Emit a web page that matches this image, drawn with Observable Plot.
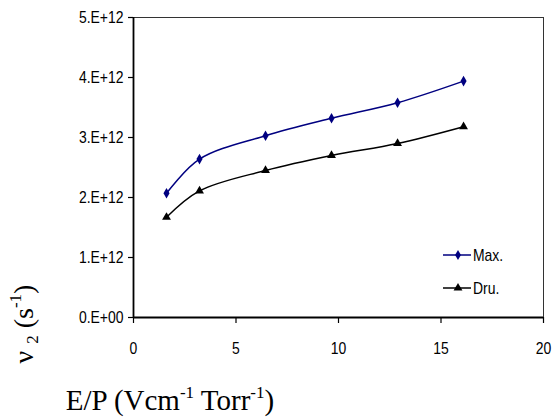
<!DOCTYPE html>
<html>
<head>
<meta charset="utf-8">
<script src="https://cdn.jsdelivr.net/npm/d3@7"></script>
<script src="https://cdn.jsdelivr.net/npm/@observablehq/plot@0.6"></script>
<style>
  html, body { margin: 0; padding: 0; background: #fff; }
  #chart { width: 552px; height: 420px; }
</style>
</head>
<body>
<div id="chart"></div>
<script>
// ---- data ----
const xTicks = [0, 5, 10, 15, 20];
const yTicks = [0, 1e12, 2e12, 3e12, 4e12, 5e12];
const yTickLabels = ["0.E+00", "1.E+12", "2.E+12", "3.E+12", "4.E+12", "5.E+12"];
const epValues = [1.61, 3.22, 6.44, 9.66, 12.88, 16.1];
const maxValues = [2.07e12, 2.64e12, 3.03e12, 3.32e12, 3.58e12, 3.94e12];
const druValues = [1.67e12, 2.11e12, 2.45e12, 2.70e12, 2.90e12, 3.18e12];
const seriesNames = ["Max.", "Dru."];
const seriesColors = ["#000080", "#000000"];

const maxData = epValues.map((x, i) => ({x, y: maxValues[i]}));
const druData = epValues.map((x, i) => ({x, y: druValues[i]}));

const tickFont = "'Liberation Sans', Arial, sans-serif";

const chart = Plot.plot({
  width: 552,
  height: 420,
  marginLeft: 133,
  marginRight: 9,
  marginTop: 17,
  marginBottom: 103,
  style: {fontFamily: tickFont, fontSize: "17px", color: "#000", background: "#fff", overflow: "visible"},
  x: {domain: [0, 20], ticks: xTicks},
  y: {domain: [0, 5e12], ticks: yTicks},
  marks: [
    Plot.frame({stroke: "#333", strokeWidth: 1}),
    Plot.ruleX([0], {stroke: "#000", strokeWidth: 1.8}),
    Plot.ruleY([0], {stroke: "#000", strokeWidth: 1.8}),
    Plot.axisX({ticks: xTicks, tickSize: 6, tickPadding: 18, label: null, stroke: "#000", strokeWidth: 1.2, fontSize: 17}),
    Plot.axisY({ticks: yTicks, tickSize: 5, tickPadding: 5, label: null, stroke: "#000", strokeWidth: 1.2,
      tickFormat: d => yTickLabels[yTicks.indexOf(d)], fontSize: 17}),
    Plot.line(maxData, {x: "x", y: "y", stroke: seriesColors[0], strokeWidth: 1.5, curve: "catmull-rom"}),
    Plot.line(druData, {x: "x", y: "y", stroke: seriesColors[1], strokeWidth: 1.5, curve: "catmull-rom"}),
    Plot.dot(maxData, {x: "x", y: "y", symbol: "diamond", r: 3.2, fill: seriesColors[0], stroke: "none"}),
    Plot.dot(druData, {x: "x", y: "y", symbol: "triangle", r: 3.3, fill: seriesColors[1], stroke: "none"})
  ]
});
document.getElementById("chart").appendChild(chart);

const svg = d3.select(chart);

// narrow the sans-serif labels (the reference uses a condensed face)
function condense(sel, k) {
  sel.each(function () {
    const w = this.getComputedTextLength();
    if (w > 0) {
      this.setAttribute("textLength", (w * k).toFixed(2));
      this.setAttribute("lengthAdjust", "spacingAndGlyphs");
    }
  });
}
condense(svg.selectAll("g[aria-label='x-axis tick label'] text, g[aria-label='y-axis tick label'] text"), 0.82);

// ---- axis titles (rich text with sub/superscripts) ----
const serif = "'Liberation Serif', 'Times New Roman', Times, serif";

const xl = svg.append("text")
  .attr("x", 170).attr("y", 410)
  .attr("text-anchor", "middle")
  .attr("font-family", serif).attr("font-size", 29).attr("fill", "#000");
xl.append("tspan").text("E/P (Vcm");
xl.append("tspan").attr("font-size", 17).attr("dy", -12).text("-1");
xl.append("tspan").attr("dy", 12).text(" Torr");
xl.append("tspan").attr("font-size", 17).attr("dy", -12).text("-1");
xl.append("tspan").attr("dy", 12).text(")");

const yl = svg.append("text")
  .attr("transform", "translate(33,324) rotate(-90)")
  .attr("text-anchor", "middle")
  .attr("font-family", serif).attr("font-size", 28).attr("fill", "#000");
yl.append("tspan").text("\u03BD ");
yl.append("tspan").attr("font-size", 17).attr("dy", 5).text("2");
yl.append("tspan").attr("dy", -5).text(" (s");
yl.append("tspan").attr("font-size", 17).attr("dy", -12).text("-1");
yl.append("tspan").attr("dy", 12).text(")");

// ---- legend ----
const legendY = [255, 288];
const legendSymbols = [d3.symbolDiamond, d3.symbolTriangle];
const legendSizes = [30, 34];
const lg = svg.append("g").attr("text-anchor", "start");
seriesNames.forEach((name, i) => {
  const y = legendY[i];
  lg.append("line").attr("x1", 443).attr("x2", 471).attr("y1", y).attr("y2", y)
    .attr("stroke", seriesColors[i]).attr("stroke-width", 1.5);
  lg.append("path").attr("d", d3.symbol(legendSymbols[i], legendSizes[i])())
    .attr("transform", `translate(458,${y})`).attr("fill", seriesColors[i]);
  const t = lg.append("text").attr("x", 473).attr("y", y).attr("dy", "0.35em")
    .attr("text-anchor", "start")
    .attr("font-family", tickFont).attr("font-size", 17).attr("fill", "#000").text(name);
  condense(t, 0.82);
});
</script>
</body>
</html>
